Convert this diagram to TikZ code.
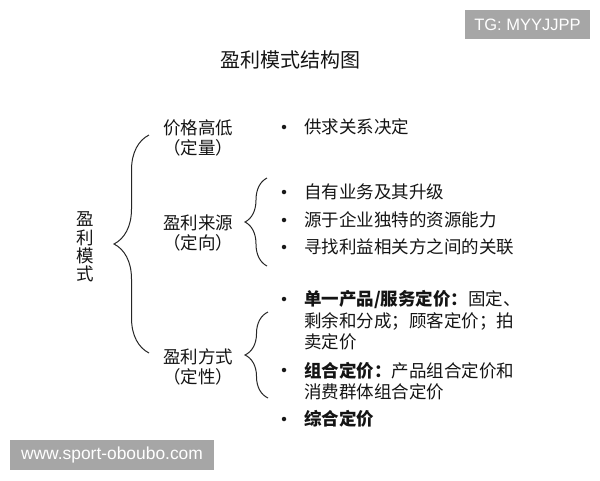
\documentclass[tikz,border=0pt]{standalone}
\usepackage{fontspec}
\usepackage{xcolor}
\usetikzlibrary{decorations.pathreplacing}
\newfontfamily\cjk{Noto Sans CJK SC}
\newfontfamily\wmfont{Liberation Sans}
\definecolor{wmgray}{HTML}{A6A6A6}

\begin{document}
\begin{tikzpicture}[x=1pt, y=-1pt]
        \tikzset{label/.style={font=\cjk\fontsize{17.5}{20}\selectfont, text=black!92, align=center, inner sep=0pt}}
        \tikzset{item/.style={font=\cjk\fontsize{17.5}{21.5}\selectfont, text=black!92, align=left, anchor=west, inner sep=0pt}}
        \tikzset{dot/.style={circle, fill=black!90, inner sep=0pt, minimum size=4.5pt}}
        \tikzset{curly/.style={decorate, decoration={brace, amplitude=#1}, draw=black!85, line width=1pt}}
        \tikzset{wmbox/.style={fill=wmgray, text=white, inner sep=0pt}}

        \useasboundingbox (0,0) rectangle (600,480);

        % Title and root
        \node [label, font=\cjk\fontsize{20}{24}\selectfont] (title) at (290,60) {盈利模式结构图};
        \node [label, font=\cjk\fontsize{17.5}{18.3}\selectfont] (root) at (85,247) {盈\\利\\模\\式};

        % Three aspects
        \node [label] (price) at (198,137.5) {价格高低\\（定量）};
        \node [label] (source) at (198,232.5) {盈利来源\\（定向）};
        \node [label] (way) at (198,366.5) {盈利方式\\（定性）};

        % Braces
        \coordinate (b1t) at (149,135);
        \coordinate (b1b) at (149,353);
        \coordinate (b2t) at (267,178);
        \coordinate (b2b) at (267,266);
        \coordinate (b3t) at (268,312);
        \coordinate (b3b) at (268,398);
        \draw [curly=35pt] (b1b) -- (b1t);
        \draw [curly=22pt] (b2b) -- (b2t);
        \draw [curly=23pt] (b3b) -- (b3t);

        % Items for price
        \node [dot] (d1) at (284,127) {};
        \node [item] (p1) at (304,127) {供求关系决定};

        % Items for source
        \node [dot] (d2) at (284,192) {};
        \node [item] (s1) at (304,192) {自有业务及其升级};
        \node [dot] (d3) at (284,220) {};
        \node [item] (s2) at (304,220) {源于企业独特的资源能力};
        \node [dot] (d4) at (284,247) {};
        \node [item] (s3) at (304,247) {寻找利益相关方之间的关联};

        % Items for way
        \node [dot] (d5) at (284,299) {};
        \node [item] (w1) at (304,320.5) {{\bfseries 单一产品/服务定价：}固定、\\剩余和分成；顾客定价；拍\\卖定价};
        \node [dot] (d6) at (284,370) {};
        \node [item] (w2) at (304,381) {{\bfseries 组合定价：}产品组合定价和\\消费群体组合定价};
        \node [dot] (d7) at (284,419) {};
        \node [item, font=\cjk\bfseries\fontsize{17.5}{21.5}\selectfont] (w3) at (304,419) {综合定价};

        % Watermarks
        \node [wmbox, minimum width=125pt, minimum height=29pt, font=\wmfont\fontsize{16.5}{18}\selectfont] (tg) at (527.5,24.5) {TG: MYYJJPP};
        \node [wmbox, minimum width=204pt, minimum height=30pt, font=\wmfont\fontsize{17.4}{19}\selectfont] (site) at (112,455) {www.sport-oboubo.com};
    \end{tikzpicture}
\end{document}
